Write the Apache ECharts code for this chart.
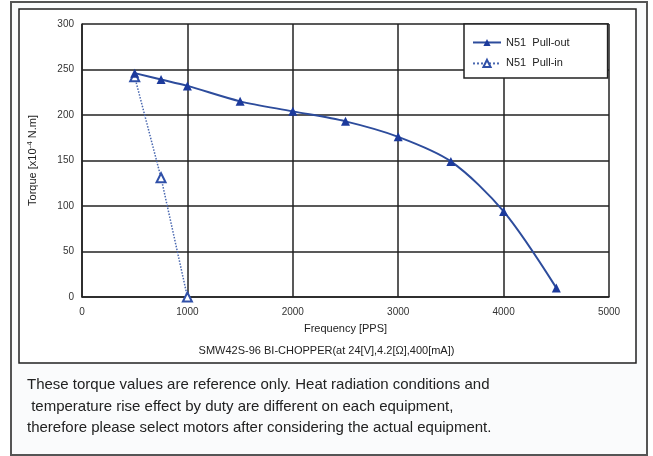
<!doctype html>
<html>
<head>
    <title>Torque chart</title>
    <script src="https://cdn.jsdelivr.net/npm/echarts@6/dist/echarts.min.js"></script>
</head>
<style>
    html, body { margin: 0; padding: 0; background: #fff; }
    #chart { width: 653px; height: 456px; }
</style>
<body>
<div id="chart"></div>
<script>
  // values
  var pullOutFreq = [500, 750, 1000, 1500, 2000, 2500, 3000, 3500, 4000, 4500];
  var pullOutTorque = [246, 239, 232, 215, 204, 193, 176, 149, 94, 10];
  var pullInFreq = [500, 750, 1000];
  var pullInTorque = [242, 131, 0];
  var seriesNames = ['N51  Pull-out', 'N51  Pull-in'];
  var noteLines = [
    'These torque values are reference only. Heat radiation conditions and',
    ' temperature rise effect by duty are different on each equipment,',
    'therefore please select motors after considering the actual equipment.'
  ];

  function pairs(xs, ys) {
    return xs.map(function (x, i) { return [x, ys[i]]; });
  }

  var myChart = echarts.init(document.getElementById('chart'));
  var font = '"Liberation Sans", Arial, sans-serif';
  var blue = '#2d4c9c';

  var graphics = [
    { type: 'rect', shape: { x: 11, y: 2, width: 636, height: 453 },
      style: { fill: '#fafbfc', stroke: '#555', lineWidth: 2 }, z: -10 },
    { type: 'rect', shape: { x: 19, y: 9, width: 617, height: 354 },
      style: { fill: '#fff', stroke: '#222', lineWidth: 1.5 }, z: -9 },
    { type: 'text', left: 'center', top: 341,
      style: { text: 'SMW42S-96 BI-CHOPPER(at 24[V],4.2[\u03a9],400[mA])',
        font: '11px ' + font, fill: '#222', x: 345, textAlign: 'center' } }
  ];
  noteLines.forEach(function (t, i) {
    graphics.push({ type: 'text', left: 27, top: 372 + i * 21.5,
      style: { text: t, font: '15px ' + font, fill: '#222' } });
  });

  var option = {
    animation: false,
    graphic: graphics,
    grid: { left: 82, top: 24, width: 527, height: 273 },
    legend: {
      data: seriesNames,
      orient: 'vertical',
      left: 464, top: 24,
      itemWidth: 28, itemHeight: 9, itemGap: 2,
      padding: [9, 38, 5, 8],
      backgroundColor: '#fff',
      borderColor: '#222', borderWidth: 1.5,
      textStyle: { fontFamily: font, fontSize: 11, color: '#222' }
    },
    xAxis: {
      type: 'value', min: 0, max: 5000, interval: 1000,
      name: 'Frequency [PPS]', nameLocation: 'middle', nameGap: 22,
      nameMoveOverlap: false,
      nameTextStyle: { fontFamily: font, fontSize: 11, color: '#222' },
      axisLine: { lineStyle: { color: '#222', width: 1.5 } },
      axisTick: { show: false },
      axisLabel: { fontFamily: font, fontSize: 10, color: '#333', margin: 7,
        formatter: function (v) { return String(v); } },
      splitLine: { lineStyle: { color: '#222', width: 1.5 } }
    },
    yAxis: {
      type: 'value', min: 0, max: 300, interval: 50,
      name: '{a|Torque [x10}{s|-4}{a| N.m]}', nameLocation: 'middle', nameGap: 40,
      nameMoveOverlap: false,
      nameTextStyle: { fontFamily: font, fontSize: 11, color: '#222',
        rich: { a: { fontFamily: font, fontSize: 11, color: '#222' },
                s: { fontFamily: font, fontSize: 8, color: '#222', verticalAlign: 'top', lineHeight: 8 } } },
      axisLine: { show: true, lineStyle: { color: '#222', width: 1.5 } },
      axisTick: { show: false },
      axisLabel: { fontFamily: font, fontSize: 10, color: '#333', margin: 8 },
      splitLine: { lineStyle: { color: '#222', width: 1.5 } }
    },
    series: [{
      name: seriesNames[0],
      type: 'line',
      data: pairs(pullOutFreq, pullOutTorque),
      smooth: 0.3,
      symbol: 'triangle', symbolSize: 9,
      lineStyle: { color: blue, width: 2 },
      itemStyle: { color: '#1c3a9c' },
      z: 5
    }, {
      name: seriesNames[1],
      type: 'line',
      data: pairs(pullInFreq, pullInTorque),
      symbol: 'emptyTriangle', symbolSize: 9,
      lineStyle: { color: '#4a68b0', width: 1.5, type: 'dotted' },
      itemStyle: { color: '#3050a8', borderWidth: 1.2 },
      z: 4
    }]
  };

  myChart.setOption(option);
</script>
</body>
</html>
